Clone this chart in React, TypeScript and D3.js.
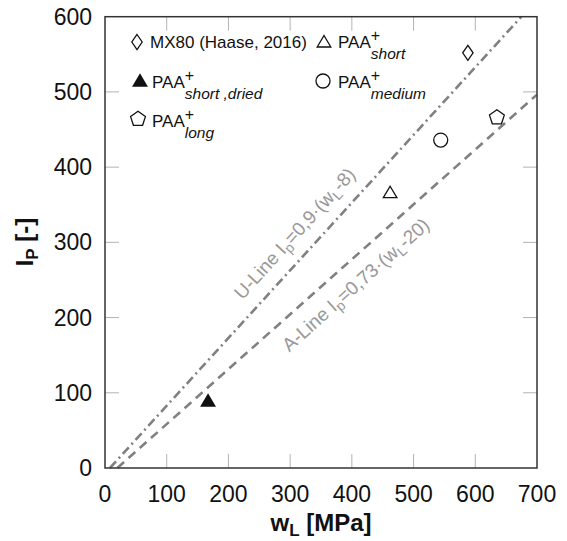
import * as d3 from "d3";
import React from "react";

// data points
const seriesNames = ["MX80", "PAA short", "PAA short dried", "PAA medium", "PAA long"];
const liquidLimit = [588, 462, 167, 544, 635];
const plasticity = [552, 366, 89, 436, 466];
const markerKind = ["diamond", "triangle", "triangleFilled", "circle", "pentagon"];

const xTicks = [0, 100, 200, 300, 400, 500, 600, 700];
const yTicks = [0, 100, 200, 300, 400, 500, 600];

// reference lines Ip = slope * (wL - offset)
const lineNames = ["U-Line", "A-Line"];
const lineSlopes = [0.9, 0.73];
const lineOffsets = [8, 20];
const lineDash = ["9,4,2,4", "9,6"];

const W = 567;
const H = 541;
const FONT = "'Liberation Sans', Arial, sans-serif";

const x = d3.scaleLinear().domain([0, 700]).range([105, 537]);
const y = d3.scaleLinear().domain([0, 600]).range([468, 16.7]);

function markerPath(kind: string) {
  if (kind === "diamond") return "M0,-7.5L5.2,0L0,7.5L-5.2,0Z";
  if (kind === "triangle" || kind === "triangleFilled") return "M0,-6.5L6.8,5L-6.8,5Z";
  if (kind === "pentagon") {
    const r = 7.8;
    const pts = d3.range(5).map((i) => {
      const a = -Math.PI / 2 + (i * 2 * Math.PI) / 5;
      return [r * Math.cos(a), r * Math.sin(a)];
    });
    return "M" + pts.map((p) => p.join(",")).join("L") + "Z";
  }
  return "";
}

function Marker({ kind, cx, cy }: { kind: string; cx: number; cy: number }) {
  if (kind === "circle") {
    return <circle cx={cx} cy={cy} r={7} fill="white" stroke="#111" strokeWidth={1.3} />;
  }
  return (
    <path
      d={markerPath(kind)}
      transform={`translate(${cx},${cy})`}
      fill={kind === "triangleFilled" ? "#111" : "white"}
      stroke="#111"
      strokeWidth={1.3}
    />
  );
}

function PaaLabel({ tx, ty, sub }: { tx: number; ty: number; sub: string }) {
  return (
    <text x={tx} y={ty} fontSize={17} fontFamily={FONT} fill="#111">
      <tspan>PAA</tspan>
      <tspan fontSize={16} dy={-7}>+</tspan>
      <tspan fontSize={15.5} fontStyle="italic" dx={-9.3} dy={18}>
        {sub}
      </tspan>
    </text>
  );
}

export default function App() {
  const lines = lineSlopes.map((a, i) => {
    const b = lineOffsets[i];
    const w0 = b;
    const w1 = Math.min(700, 600 / a + b);
    const pts: [number, number][] = [
      [w0, 0],
      [w1, a * (w1 - b)],
    ];
    return pts;
  });

  const lineGen = d3
    .line<[number, number]>()
    .x((d) => x(d[0]))
    .y((d) => y(d[1]));

  // label anchors on each line (wL) and perpendicular offsets in px
  const labelAt = [333, 383];
  const labelOffset = [-21, 22];

  return (
    <svg
      width={W}
      height={H}
      style={{ position: "absolute", left: 0, top: 0, background: "white" }}
    >
      <rect width={W} height={H} fill="white" />

      {/* ticks on all four sides */}
      <g stroke="#b3b3b3" strokeWidth={1}>
        {xTicks.slice(1, -1).map((t) => (
          <g key={"xt" + t}>
            <line x1={x(t)} x2={x(t)} y1={y(0)} y2={y(0) - 14} />
            <line x1={x(t)} x2={x(t)} y1={y(600)} y2={y(600) + 14} />
          </g>
        ))}
        {yTicks.slice(1, -1).map((t) => (
          <g key={"yt" + t}>
            <line x1={x(0)} x2={x(0) + 14} y1={y(t)} y2={y(t)} />
            <line x1={x(700)} x2={x(700) - 14} y1={y(t)} y2={y(t)} />
          </g>
        ))}
      </g>

      {/* reference lines */}
      {lines.map((pts, i) => (
        <path
          key={lineNames[i]}
          d={lineGen(pts) as string}
          fill="none"
          stroke="#808080"
          strokeWidth={2.6}
          strokeDasharray={lineDash[i]}
        />
      ))}

      {/* line labels */}
      {lines.map((pts, i) => {
        const a = lineSlopes[i];
        const b = lineOffsets[i];
        const dx = x(pts[1][0]) - x(pts[0][0]);
        const dy = y(pts[1][1]) - y(pts[0][1]);
        const phi = Math.atan2(dy, dx);
        const px = x(labelAt[i]);
        const py = y(a * (labelAt[i] - b));
        const nx = -Math.sin(phi);
        const ny = Math.cos(phi);
        const cx = px + labelOffset[i] * nx;
        const cy = py + labelOffset[i] * ny;
        const coef = String(a).replace(".", ",");
        return (
          <text
            key={"lbl" + i}
            transform={`translate(${cx},${cy}) rotate(${(phi * 180) / Math.PI})`}
            y={6}
            textAnchor="middle"
            fontSize={19}
            fontFamily={FONT}
            fill="#999"
          >
            <tspan>{lineNames[i]} I</tspan>
            <tspan fontSize={14} dy={4}>p</tspan>
            <tspan dy={-4}>{`=${coef}·(w`}</tspan>
            <tspan fontSize={14} dy={4}>L</tspan>
            <tspan dy={-4}>{`-${b})`}</tspan>
          </text>
        );
      })}

      {/* data markers */}
      {liquidLimit.map((w, i) => (
        <Marker key={seriesNames[i]} kind={markerKind[i]} cx={x(w)} cy={y(plasticity[i])} />
      ))}

      {/* frame */}
      <rect
        x={x(0)}
        y={y(600)}
        width={x(700) - x(0)}
        height={y(0) - y(600)}
        fill="none"
        stroke="#333"
        strokeWidth={1.5}
      />

      {/* tick labels */}
      <g fontFamily={FONT} fontSize={23} fill="#111">
        {xTicks.map((t) => (
          <text key={"xl" + t} x={x(t)} y={502} textAnchor="middle">
            {t}
          </text>
        ))}
        {yTicks.map((t) => (
          <text key={"yl" + t} x={92} y={y(t) + 8} textAnchor="end">
            {t}
          </text>
        ))}
      </g>

      {/* axis titles */}
      <text x={321} y={531} textAnchor="middle" fontFamily={FONT} fontSize={24} fontWeight="bold" fill="#111">
        <tspan>w</tspan>
        <tspan fontSize={17} dy={5}>L</tspan>
        <tspan dy={-5}>{"  [MPa]"}</tspan>
      </text>
      <text
        transform="translate(33,242) rotate(-90)"
        textAnchor="middle"
        fontFamily={FONT}
        fontSize={24}
        fontWeight="bold"
        fill="#111"
      >
        <tspan>I</tspan>
        <tspan fontSize={17} dy={5}>P</tspan>
        <tspan dy={-5}>{" [-]"}</tspan>
      </text>

      {/* legend */}
      <Marker kind="diamond" cx={137} cy={42} />
      <text x={150} y={48} fontSize={17} fontFamily={FONT} fill="#111">
        MX80 (Haase, 2016)
      </text>
      <Marker kind="triangle" cx={324} cy={42} />
      <PaaLabel tx={338} ty={48} sub="short" />
      <Marker kind="triangleFilled" cx={140} cy={81} />
      <PaaLabel tx={152} ty={88} sub="short ,dried" />
      <Marker kind="circle" cx={323} cy={81} />
      <PaaLabel tx={338} ty={88} sub="medium" />
      <Marker kind="pentagon" cx={138} cy={119} />
      <PaaLabel tx={152} ty={127} sub="long" />
    </svg>
  );
}
